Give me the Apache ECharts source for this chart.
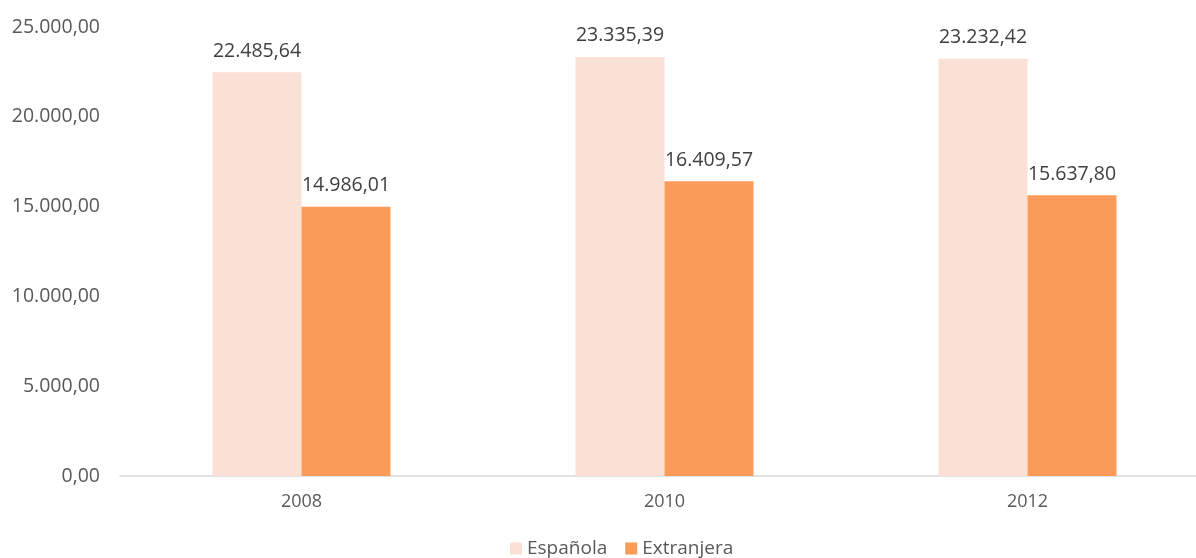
<!DOCTYPE html>
<html><head><meta charset="utf-8">
<script src="https://cdn.jsdelivr.net/npm/echarts@6/dist/echarts.min.js"></script>
<style>html,body{margin:0;padding:0;background:#fff;overflow:hidden}#c{width:1210px;height:558px}</style>
</head><body><div id="c"></div>
<script>
const categories = ['2008', '2010', '2012'];
const espanola = [22485.64, 23335.39, 23232.42];
const extranjera = [14986.01, 16409.57, 15637.80];
const seriesNames = ['Española', 'Extranjera'];

function fmt(v) {
  const parts = v.toFixed(2).split('.');
  const intPart = parts[0].replace(/\B(?=(\d{3})+(?!\d))/g, '.');
  return intPart + ',' + parts[1];
}
const font = '"Open Sans", "Noto Sans", sans-serif';
const chart = echarts.init(document.getElementById('c'));
chart.setOption({
  animation: false,
  textStyle: { fontFamily: font },
  grid: { left: 120, top: 27, right: 1, bottom: 82, containLabel: false },
  legend: {
    data: seriesNames, bottom: -5, left: 505, itemWidth: 12, itemHeight: 12, itemGap: 18,
    icon: 'rect', textStyle: { color: '#595959', fontSize: 19, fontFamily: font }
  },
  xAxis: {
    type: 'category', data: categories,
    axisLine: { lineStyle: { color: '#d9d9d9', width: 1.5 } },
    axisTick: { show: false },
    axisLabel: { color: '#595959', fontSize: 18, margin: 17, fontFamily: font }
  },
  yAxis: {
    type: 'value', min: 0, max: 25000, interval: 5000,
    splitLine: { show: false },
    axisLabel: { color: '#595959', fontSize: 19.5, margin: 20, formatter: v => fmt(v), fontFamily: font }
  },
  series: [
    { name: seriesNames[0], type: 'bar', data: espanola, barWidth: 89, barGap: '0%',
      itemStyle: { color: '#FBE0D6' },
      label: { show: true, position: 'top', distance: 11, color: '#404040', fontSize: 19.5, fontFamily: font, formatter: p => fmt(p.value) } },
    { name: seriesNames[1], type: 'bar', data: extranjera, barWidth: 89, barGap: '0%',
      itemStyle: { color: '#FB9B5A' },
      label: { show: true, position: 'top', distance: 11, color: '#404040', fontSize: 19.5, fontFamily: font, formatter: p => fmt(p.value) } }
  ]
});
</script></body></html>
